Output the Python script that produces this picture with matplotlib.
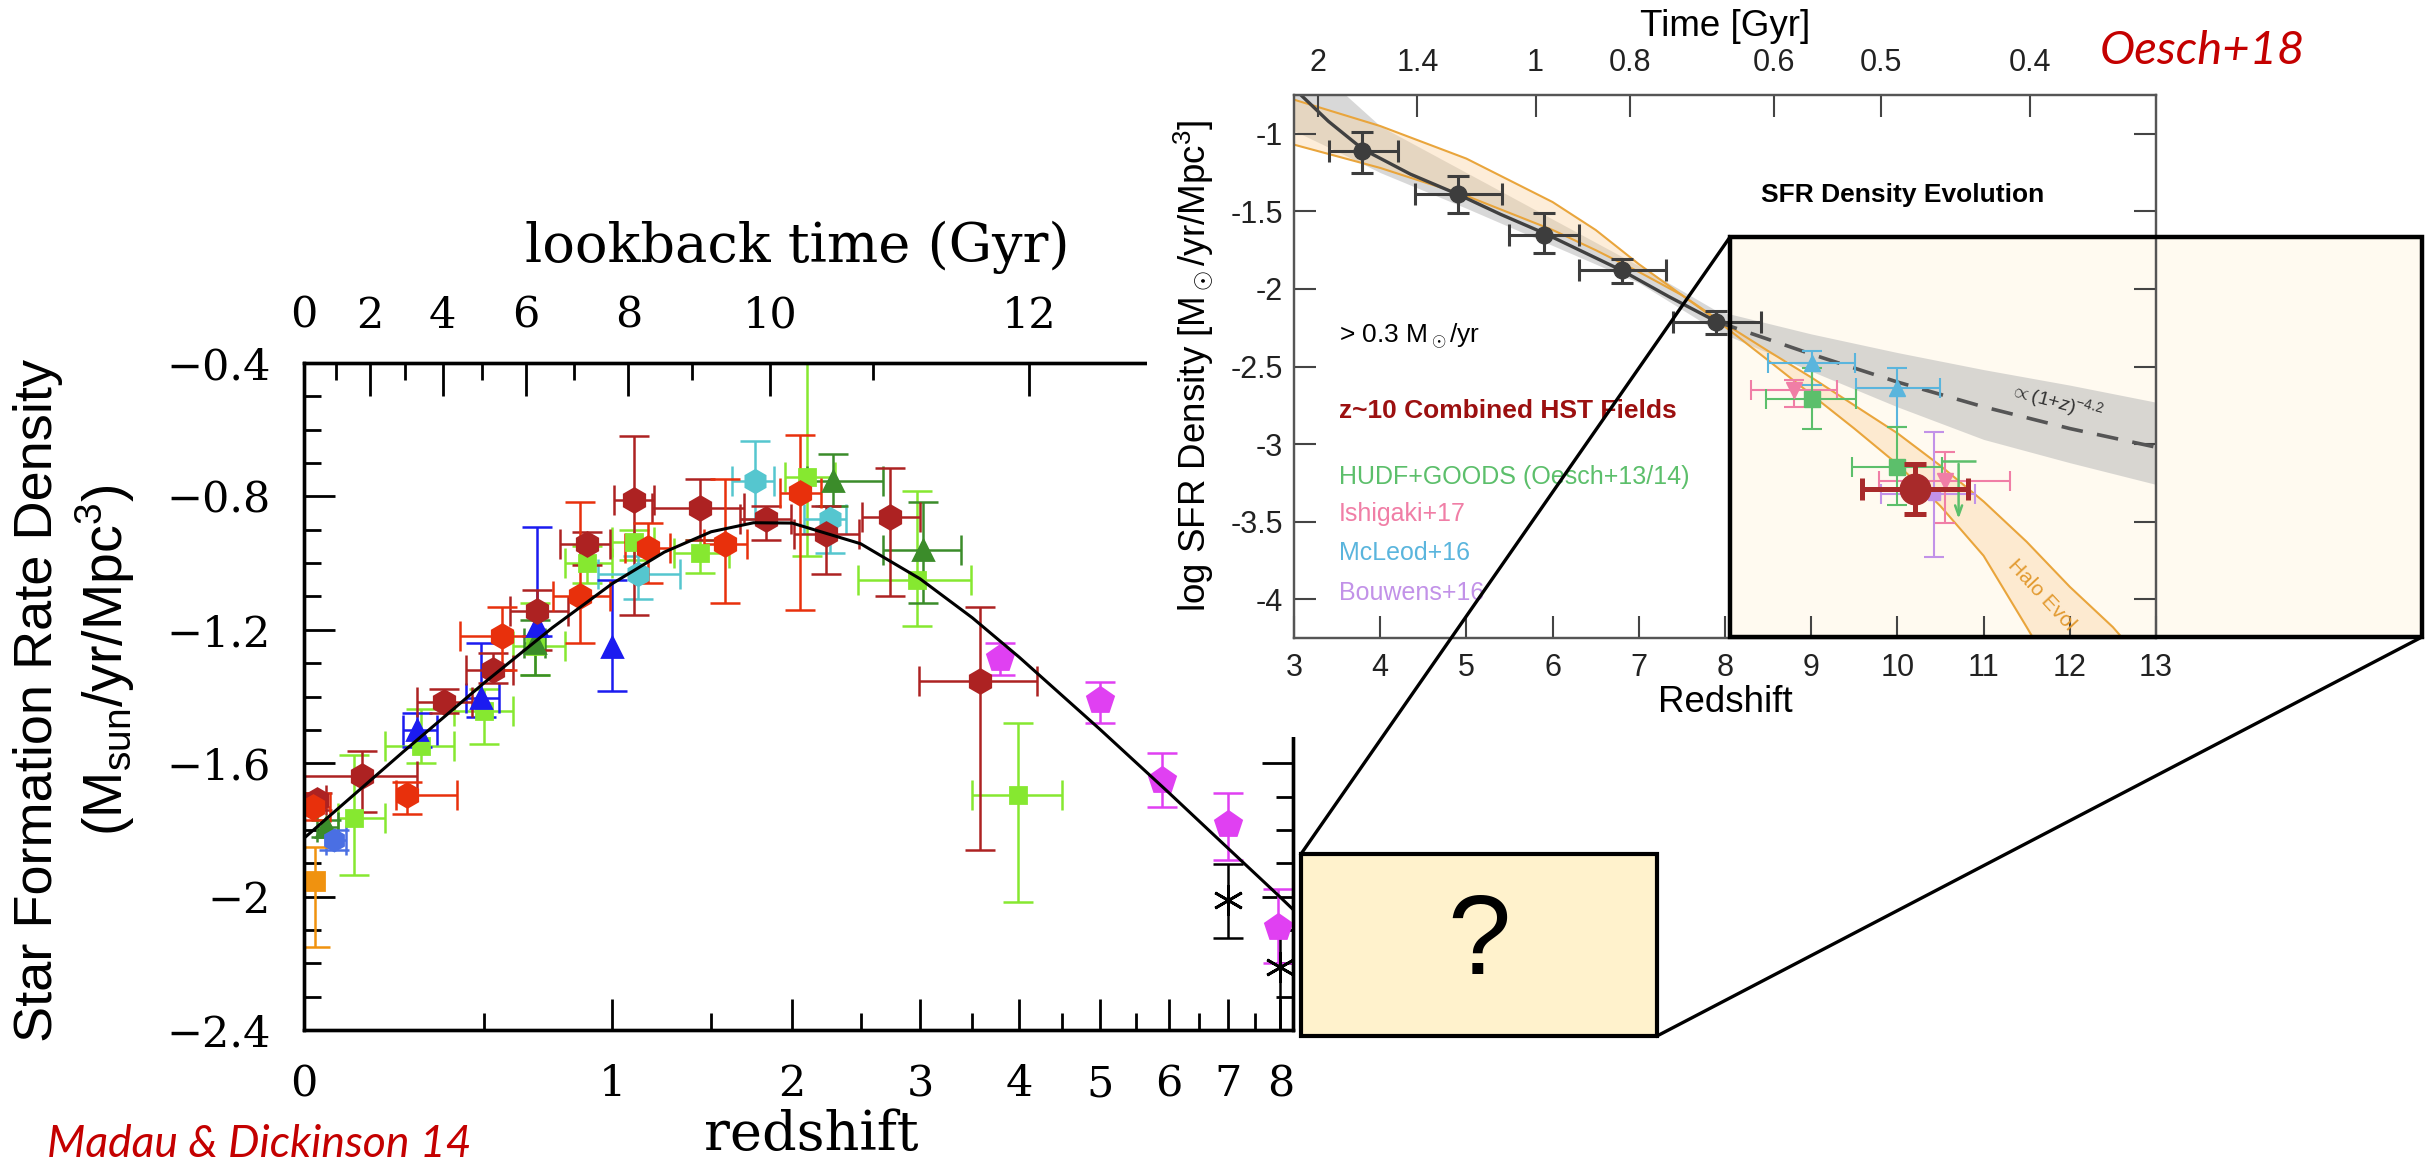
import numpy as np
import matplotlib.pyplot as plt
from matplotlib.patches import Rectangle

plt.rcParams['font.family'] = ['Liberation Sans', 'DejaVu Sans']
plt.rcParams['mathtext.fontset'] = 'custom'
plt.rcParams['mathtext.rm'] = 'Liberation Sans'
plt.rcParams['mathtext.it'] = 'Liberation Sans:italic'
plt.rcParams['mathtext.bf'] = 'Liberation Sans:bold'

W, H = 2432, 1162   # output size in pixels

# ---------------- Madau & Dickinson 14 compilation ----------------
# rows: z, log SFRD, z_lo, z_hi, top of y error, bottom of y error
md_red = [
    (0.02, -1.73, 0.00, 0.06, -1.69, -1.77),
    (0.26, -1.694, 0.23, 0.41, -1.657, -1.751),
    (0.56, -1.218, 0.42, 0.70, -1.133, -1.322),
    (0.86, -1.10, 0.75, 0.99, -0.817, -1.24),
    (1.17, -0.955, 1.06, 1.28, -0.88, -1.06),
    (1.58, -0.943, 1.46, 1.71, -0.748, -1.12),
    (2.05, -0.79, 1.92, 2.20, -0.615, -1.14),
]
md_darkred = [
    (0.03, -1.71, 0.00, 0.05, -1.69, -1.74),
    (0.14, -1.638, 0.00, 0.29, -1.562, -1.745),
    (0.37, -1.417, 0.29, 0.46, -1.379, -1.448),
    (0.53, -1.322, 0.44, 0.60, -1.27, -1.36),
    (0.69, -1.145, 0.59, 0.81, -1.08, -1.26),
    (0.89, -0.943, 0.78, 0.99, -0.906, -1.006),
    (1.10, -0.81, 1.01, 1.20, -0.62, -1.156),
    (1.44, -0.836, 1.19, 1.69, -0.748, -0.931),
    (1.83, -0.868, 1.67, 1.99, -0.83, -0.931),
    (2.24, -0.912, 2.01, 2.49, -0.83, -1.032),
    (2.74, -0.861, 2.51, 3.00, -0.716, -1.10),
    (3.58, -1.354, 2.99, 4.20, -1.133, -1.859),
]
md_lime = [
    (0.12, -1.764, 0.08, 0.20, -1.575, -1.934),
    (0.30, -1.549, 0.20, 0.40, -1.436, -1.60),
    (0.50, -1.442, 0.40, 0.60, -1.379, -1.543),
    (0.68, -1.25, 0.60, 0.80, -1.12, -1.335),
    (0.89, -1.00, 0.80, 1.00, -0.95, -1.06),
    (1.10, -0.937, 1.00, 1.20, -0.90, -0.99),
    (1.44, -0.969, 1.30, 1.60, -0.93, -1.03),
    (2.10, -0.741, 1.95, 2.30, -0.30, -0.98),
    (2.97, -1.051, 2.48, 3.49, -0.785, -1.19),
    (3.99, -1.694, 3.50, 4.50, -1.48, -2.016),
]
md_green = [
    (0.05, -1.79, 0.03, 0.08, -1.77, -1.82),
    (0.68, -1.24, 0.64, 0.72, -1.17, -1.335),
    (2.29, -0.754, 2.10, 2.68, -0.672, -0.83),
    (3.03, -0.962, 2.68, 3.39, -0.817, -1.12),
]
md_blue = [
    (0.29, -1.499, 0.25, 0.35, -1.448, -1.55),
    (0.49, -1.404, 0.44, 0.55, -1.24, -1.46),
    (0.69, -1.19, 0.69, 0.69, -0.893, -1.22),
    (1.00, -1.253, 1.00, 1.00, -1.05, -1.385),
]
md_royal = [(0.07, -1.83, 0.05, 0.10, -1.80, -1.86)]
md_cyan = [
    (1.12, -1.032, 0.94, 1.33, -0.98, -1.107),
    (1.76, -0.754, 1.62, 1.88, -0.634, -0.868),
    (2.27, -0.868, 2.08, 2.39, -0.83, -0.97),
]
md_magenta = [
    (3.79, -1.284, 3.79, 3.79, -1.24, -1.335),
    (5.00, -1.41, 5.00, 5.00, -1.357, -1.48),
    (5.90, -1.65, 5.90, 5.90, -1.568, -1.732),
    (7.00, -1.783, 7.00, 7.00, -1.688, -1.89),
    (7.95, -2.092, 7.95, 7.95, -1.978, -2.20),
]
md_orange = [(0.025, -1.953, 0.025, 0.025, -1.85, -2.15)]
md_black = [
    (7.00, -2.01, 7.00, 7.00, -1.903, -2.124),
    (8.00, -2.21, 8.00, 8.00, -2.08, -2.40),
]

# MD14 best-fit curve
md_fit_z = [0, 0.25, 0.5, 0.75, 1.0, 1.25, 1.5, 1.75, 2.0, 2.5, 3.0, 3.5, 4.0, 5.0, 6.0, 7.0, 8.0, 8.3]
md_fit_v = [-1.825, -1.566, -1.359, -1.193, -1.062, -0.967, -0.906, -0.879, -0.880, -0.942,
            -1.047, -1.164, -1.282, -1.499, -1.688, -1.855, -2.002, -2.044]

md_zmax = 8.26
md_yticks = [-2.4, -2.0, -1.6, -1.2, -0.8, -0.4]
md_ylabels = ['\u22122.4', '\u22122', '\u22121.6', '\u22121.2', '\u22120.8', '\u22120.4']
md_zticks = [0, 1, 2, 3, 4, 5, 6, 7, 8]
md_lookback_major = [0, 2, 4, 6, 8, 10, 12]
md_lookback_minor = [1, 3, 5, 7, 9, 11]

# ---------------- Oesch+18 panel ----------------
oe_gray = [
    (3.79, -1.11, 3.41, 4.21, -0.99, -1.25),
    (4.90, -1.39, 4.40, 5.41, -1.27, -1.51),
    (5.90, -1.65, 5.49, 6.31, -1.51, -1.77),
    (6.81, -1.88, 6.31, 7.32, -1.81, -1.96),
    (7.90, -2.21, 7.40, 8.42, -2.14, -2.29),
]
oe_fit_z = [3.08, 3.4, 3.8, 4.35, 4.9, 5.4, 5.9, 6.35, 6.8, 7.35, 7.9]
oe_fit_v = [-0.75, -0.92, -1.10, -1.26, -1.39, -1.52, -1.64, -1.76, -1.88, -2.05, -2.21]
oe_pl_z = [7.9, 9.0, 10.0, 11.0, 12.0, 13.0]
oe_pl_v = [-2.21, -2.42, -2.60, -2.76, -2.90, -3.02]
oe_band_z = [3.0, 3.6, 4.0, 5.0, 6.0, 7.0, 7.9, 9.0, 10.0, 11.0, 12.0, 13.0]
oe_band_hi = [-0.45, -0.75, -0.95, -1.25, -1.55, -1.85, -2.14, -2.29, -2.41, -2.52, -2.62, -2.73]
oe_band_lo = [-0.98, -1.14, -1.25, -1.48, -1.72, -1.96, -2.27, -2.53, -2.76, -2.97, -3.12, -3.26]
oe_halo_z = [3.0, 4.0, 5.0, 6.0, 6.5, 7.0, 7.5, 7.9, 8.5, 9.0, 9.5, 10.0, 10.5, 11.0, 11.5, 12.0, 12.5, 13.0]
oe_halo_a = [-0.78, -0.95, -1.16, -1.44, -1.62, -1.84, -2.04, -2.20, -2.46, -2.68, -2.90, -3.13,
             -3.40, -3.72, -4.18, -4.65, -5.1, -5.6]
oe_halo_b = [-1.07, -1.22, -1.40, -1.62, -1.75, -1.89, -2.04, -2.19, -2.40, -2.57, -2.75, -2.93,
             -3.14, -3.37, -3.63, -3.92, -4.18, -4.50]
oe_hudf = [(9.01, -2.71, 8.48, 9.52, -2.51, -2.90), (10.0, -3.15, 9.47, 10.52, -2.89, -3.39)]
oe_hudf_limit = (10.71, -3.11, -3.50)
oe_ishigaki = [(8.80, -2.65, 8.30, 9.30, -2.59, -2.76), (10.55, -3.24, 9.79, 11.31, -3.05, -3.51)]
oe_mcleod = [(9.01, -2.48, 8.50, 9.51, -2.40, -2.62), (10.0, -2.64, 9.52, 10.49, -2.51, -2.89)]
oe_bouwens = [(10.43, -3.32, 9.81, 10.90, -2.92, -3.73)]
oe_z10 = [(10.2, -3.29, 9.59, 10.82, -3.13, -3.45)]
oe_time_ticks = [2, 1.4, 1, 0.8, 0.6, 0.5, 0.4]


def age_gyr(z, h0, om):
    ol = 1 - om
    return 977.8 / h0 * 2 / (3 * np.sqrt(ol)) * np.arcsinh(np.sqrt(ol / om) * (1 + z) ** -1.5)


def px_box(l, t, r, b):
    return [l / W, 1 - b / H, (r - l) / W, (b - t) / H]


def ftext(x, y, s, **kw):
    fig.text(x / W, 1 - y / H, s, **kw)


def split(rows):
    a = np.array(rows, float)
    return a.T


fig = plt.figure(figsize=(W / 100, H / 100), dpi=100)
serif = 'DejaVu Serif'

# ======== left panel ========
ax1 = fig.add_axes(px_box(304, 363, 1293, 1030))
ax1.set_xlim(0, np.log10(1 + md_zmax))
ax1.set_ylim(-2.4, -0.4)

md_groups = [
    (md_lime, '#86e830', 's', 12),
    (md_cyan, '#55c6cf', 'h', 16),
    (md_green, '#3b8c2a', '^', 14),
    (md_blue, '#1b1bf0', '^', 15),
    (md_royal, '#4a6fe3', 'h', 15),
    (md_orange, '#f0920f', 's', 13),
    (md_darkred, '#ad2222', 'h', 17),
    (md_red, '#e8300c', 'h', 17),
    (md_magenta, '#e040f2', 'p', 19),
    (md_black, 'black', (6, 2, 0), 22),
]
for rows, color, mk, ms in md_groups:
    z, v, zlo, zhi, vtop, vbot = split(rows)
    x = np.log10(1 + z)
    ax1.errorbar(x, v, yerr=[v - vbot, vtop - v], fmt='none', ecolor=color,
                 elinewidth=1.8, capsize=11, capthick=1.8, zorder=2)
    has_x = zhi > zlo
    if has_x.any():
        xl = x - np.log10(1 + zlo)
        xh = np.log10(1 + zhi) - x
        ax1.errorbar(x[has_x], v[has_x], xerr=[xl[has_x], xh[has_x]], fmt='none', ecolor=color,
                     elinewidth=1.8, capsize=11, capthick=1.8, zorder=2)
    ax1.plot(x, v, linestyle='none', marker=mk, ms=ms, color=color, mec=color, mew=2, zorder=3)

ax1.plot(np.log10(1 + np.array(md_fit_z)), md_fit_v, color='black', lw=2.2, zorder=4)

ax1.set_yticks(md_yticks)
ax1.set_yticklabels(md_ylabels, fontfamily=serif, fontsize=31)
ax1.set_yticks(np.arange(-2.4, -0.35, 0.1), minor=True)
ax1.set_xticks(np.log10(1 + np.array(md_zticks)))
ax1.set_xticklabels([str(t) for t in md_zticks], fontfamily=serif, fontsize=31)
ax1.set_xticks(np.log10(1 + np.arange(0.5, 8, 1.0)), minor=True)
ax1.tick_params(which='both', direction='in', width=2, color='black')
ax1.tick_params(which='major', length=22)
ax1.tick_params(which='minor', length=12)
ax1.tick_params(axis='x', which='both', top=False, pad=24)
ax1.tick_params(axis='y', which='both', left=True, right=True, pad=24)
for sp in ax1.spines.values():
    sp.set_linewidth(2.4)

# lookback time axis (H0=70, Om=0.3)
zg = np.linspace(0, 40, 40001)
lb = age_gyr(0, 70, 0.3) - age_gyr(zg, 70, 0.3)
ax1t = ax1.twiny()
ax1t.set_xlim(ax1.get_xlim())
ax1t.set_xticks(np.log10(1 + np.interp(md_lookback_major, lb, zg)))
ax1t.set_xticklabels([str(t) for t in md_lookback_major], fontfamily=serif, fontsize=31)
ax1t.set_xticks(np.log10(1 + np.interp(md_lookback_minor, lb, zg)), minor=True)
ax1t.tick_params(which='both', direction='in', width=2, color='black', pad=19)
ax1t.tick_params(which='major', length=24)
ax1t.tick_params(which='minor', length=12)
for sp in ax1t.spines.values():
    sp.set_linewidth(2.4)

ftext(797, 247, 'lookback time (Gyr)', fontfamily=serif, fontsize=39, ha='center', va='center')
ftext(811, 1135, 'redshift', fontfamily=serif, fontsize=39, ha='center', va='center')
ftext(38, 700, 'Star Formation Rate Density', fontsize=39, rotation=90, ha='center', va='center')
ftext(105, 660, r'(M$_{\rm sun}$/yr/Mpc$^3$)', fontsize=40, rotation=90, ha='center', va='center')
ftext(47, 1157, 'Madau & Dickinson 14', fontfamily='Lato', fontstyle='italic', fontsize=32,
      color='#c40000', ha='left', va='baseline')

# ======== cover layer (pasted image background + zoom rectangle) ========
cov = fig.add_axes([0, 0, 1, 1], zorder=1)
cov.set_xlim(0, W)
cov.set_ylim(H, 0)
cov.axis('off')
cov.add_patch(Rectangle((1147, 0), W - 1147, 737, facecolor='white', edgecolor='none'))
cov.add_patch(Rectangle((1730, 237), 692, 400, facecolor='#fffaf0', edgecolor='none'))

# ======== right panel ========
ax2 = fig.add_axes(px_box(1294, 95, 2156, 638), zorder=2)
ax2.patch.set_alpha(0)
ax2.set_xlim(3, 13)
ax2.set_ylim(-4.25, -0.75)

ax2.fill_between(oe_band_z, oe_band_lo, oe_band_hi, color='#b9b9b9', alpha=0.55, lw=0, zorder=1)
ax2.fill_between(oe_halo_z, oe_halo_a, oe_halo_b, color='#fbd3a0', alpha=0.4, lw=0, zorder=1.2)
ax2.plot(oe_halo_z, oe_halo_a, color='#e9a53c', lw=1.5, zorder=1.5)
ax2.plot(oe_halo_z, oe_halo_b, color='#e9a53c', lw=1.5, zorder=1.5)
ax2.plot(oe_fit_z, oe_fit_v, color='#404040', lw=2.4, zorder=2)
ax2.plot(oe_pl_z, oe_pl_v, color='#555555', lw=2.6, dashes=(6, 4), zorder=2)


def oe_points(rows, color, mk, ms, lw=1.5, cap=7, z=3):
    zz, v, zlo, zhi, vtop, vbot = split(rows)
    ax2.errorbar(zz, v, xerr=[zz - zlo, zhi - zz], yerr=[v - vbot, vtop - v], fmt=mk, ms=ms,
                 color=color, mec=color, elinewidth=lw, capsize=cap, capthick=lw, zorder=z)


oe_points(oe_gray, '#3d3d3d', 'o', 12, lw=2.2, cap=8)
oe_points(oe_bouwens, '#c292e8', 's', 8)
oe_points(oe_ishigaki, '#f07ea6', 'v', 11)
oe_points(oe_mcleod, '#5ab5dd', '^', 11)
oe_points(oe_hudf, '#5cbf6b', 's', 11)
lz, ltop, lbot = oe_hudf_limit
ax2.errorbar([lz], [ltop], xerr=[[0.2], [0.2]], fmt='none', ecolor='#5cbf6b', elinewidth=1.8,
             capsize=0, zorder=3)
ax2.annotate('', xy=(lz, lbot), xytext=(lz, ltop), zorder=3,
             arrowprops=dict(arrowstyle='->,head_length=0.7,head_width=0.25', color='#5cbf6b', lw=1.8))
oe_points(oe_z10, '#a82a2a', 'o', 22, lw=3.6, cap=8, z=4)

ax2.set_xticks(range(3, 14))
ax2.set_xticklabels([str(t) for t in range(3, 14)], fontsize=22, color='#222222')
yt = [-4, -3.5, -3, -2.5, -2, -1.5, -1]
ax2.set_yticks(yt)
ax2.set_yticklabels(['%g' % t for t in yt], fontsize=22, color='#222222')
ax2.tick_params(which='both', direction='in', length=16, width=1.5, color='#444444',
                top=False, right=True)
ax2.tick_params(axis='x', pad=11)
ax2.tick_params(axis='y', pad=8)
for sp in ax2.spines.values():
    sp.set_linewidth(1.6)
    sp.set_color('#555555')

# cosmic time axis
ag = age_gyr(zg, 67, 0.3)
ax2t = ax2.twiny()
ax2t.set_zorder(2.1)
ax2t.set_xlim(3, 13)
ax2t.set_xticks(np.interp(oe_time_ticks, ag[::-1], zg[::-1]))
ax2t.set_xticklabels(['%g' % t for t in oe_time_ticks], fontsize=22, color='#222222')
ax2t.tick_params(direction='in', length=16, width=1.5, color='#444444', pad=12)
for sp in ax2t.spines.values():
    sp.set_linewidth(1.6)
    sp.set_color('#555555')

ax2.text(8.42, -1.395, 'SFR Density Evolution', fontsize=19, fontweight='bold', ha='left', va='center')
ax2.text(3.52, -2.305, r'> 0.3 M$_\odot$/yr', fontsize=19, ha='left', va='center')
ax2.text(3.52, -2.79, 'z~10 Combined HST Fields', fontsize=19, fontweight='bold', color='#9c1010',
         ha='left', va='center')
ax2.text(3.52, -3.21, 'HUDF+GOODS (Oesch+13/14)', fontsize=18, color='#5cbf6b', ha='left', va='center')
ax2.text(3.52, -3.45, 'Ishigaki+17', fontsize=18, color='#f07ea6', ha='left', va='center')
ax2.text(3.52, -3.70, 'McLeod+16', fontsize=18, color='#5ab5dd', ha='left', va='center')
ax2.text(3.52, -3.96, 'Bouwens+16', fontsize=18, color='#c292e8', ha='left', va='center')
ax2.text(11.84, -2.73, r'$\propto$$(1$+$z)^{-4.2}$', fontsize=14, color='#333333', rotation=-15,
         ha='center', va='center', zorder=5)
ax2.text(11.67, -3.97, 'Halo Evol', fontsize=15, color='#e29a30', rotation=-47,
         ha='center', va='center', zorder=5)

ftext(1725, 703, 'Redshift', fontsize=26.5, ha='center', va='center')
ftext(1725, 27, 'Time [Gyr]', fontsize=26.5, ha='center', va='center')
ftext(1193, 366, r'log SFR Density [M$_\odot$/yr/Mpc$^3$]', fontsize=26.5, rotation=90,
      ha='center', va='center')
ftext(2100, 64, 'Oesch+18', fontfamily='Lato', fontstyle='italic', fontsize=34, color='#c40000',
      ha='left', va='baseline')

# ======== top layer: zoom box, question box, connectors ========
top = fig.add_axes([0, 0, 1, 1], zorder=5)
top.set_xlim(0, W)
top.set_ylim(H, 0)
top.axis('off')
top.add_patch(Rectangle((1730, 237), 692, 400, facecolor='none', edgecolor='black', lw=3.2))
top.add_patch(Rectangle((1301, 854), 356, 182, facecolor='#fff2cc', edgecolor='black', lw=3))
top.plot([1301, 1730], [854, 237], color='black', lw=2.4)
top.plot([1657, 2422], [1036, 637], color='black', lw=2.4)
top.text(1479, 945, '?', fontsize=82, ha='center', va='center')

fig.savefig('out.png', dpi=100)
